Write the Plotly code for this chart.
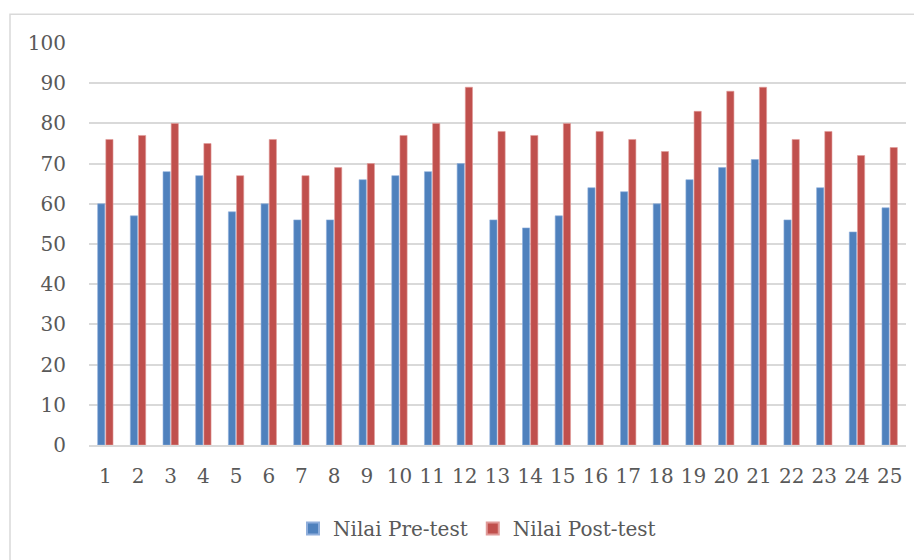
import plotly.graph_objects as go

categories = [str(i) for i in range(1, 26)]
pre_test = [60, 57, 68, 67, 58, 60, 56, 56, 66, 67, 68, 70, 56, 54, 57, 64, 63, 60, 66, 69, 71, 56, 64, 53, 59]
post_test = [76, 77, 80, 75, 67, 76, 67, 69, 70, 77, 80, 89, 78, 77, 80, 78, 76, 73, 83, 88, 89, 76, 78, 72, 74]
y_ticks = [0, 10, 20, 30, 40, 50, 60, 70, 80, 90, 100]

FONT = "DejaVu Serif"
TXT = "#595959"
GRID = "#D9D9D9"
FS = 20

fig = go.Figure()
fig.add_trace(go.Bar(x=categories, y=pre_test, name="Nilai Pre-test",
                     marker=dict(color="#4F81BD", line=dict(color="#8FAEDB", width=0.6))))
fig.add_trace(go.Bar(x=categories, y=post_test, name="Nilai Post-test",
                     marker=dict(color="#C0504D", line=dict(color="#E09A98", width=0.6))))

# page has an 8px body margin; figure coordinates are page - 8
OFF = 8
W, H = 922 - OFF, 560 - OFF
L, T = 89 - OFF, 43 - OFF
R = W - (906 - OFF)
B = H - (448 - OFF)
pw = W - L - R
ph = H - T - B

fig.update_layout(
    width=W, height=H,
    margin=dict(l=L, r=R, t=T, b=B, pad=0),
    paper_bgcolor="white", plot_bgcolor="white",
    barmode="group", bargap=0.5, bargroupgap=0.12,
    font=dict(family=FONT, size=FS, color=TXT),
    showlegend=True,
    legend=dict(orientation="h", x=(477 - 89) / pw, xanchor="center",
                y=(448 - 532) / ph, yanchor="middle",
                font=dict(family=FONT, size=FS, color=TXT),
                itemsizing="constant", traceorder="normal", itemwidth=30),
    xaxis=dict(showgrid=False, showline=True, linecolor=GRID, linewidth=1.5,
               ticks="", tickfont=dict(family=FONT, size=FS, color=TXT),
               ticklabelstandoff=12),
    yaxis=dict(range=[0, 100], tickvals=y_ticks, showgrid=True, gridcolor=GRID,
               gridwidth=1.5, zeroline=False, showline=False, ticks="",
               tickfont=dict(family=FONT, size=FS, color=TXT), ticklabelstandoff=22),
    shapes=[dict(type="rect", xref="paper", yref="paper",
                 x0=(10 - 89) / pw, x1=1.1, y0=-0.4, y1=1 + (43 - 14) / ph,
                 line=dict(color=GRID, width=1.5), layer="below")],
)

fig.write_html("out.html")
